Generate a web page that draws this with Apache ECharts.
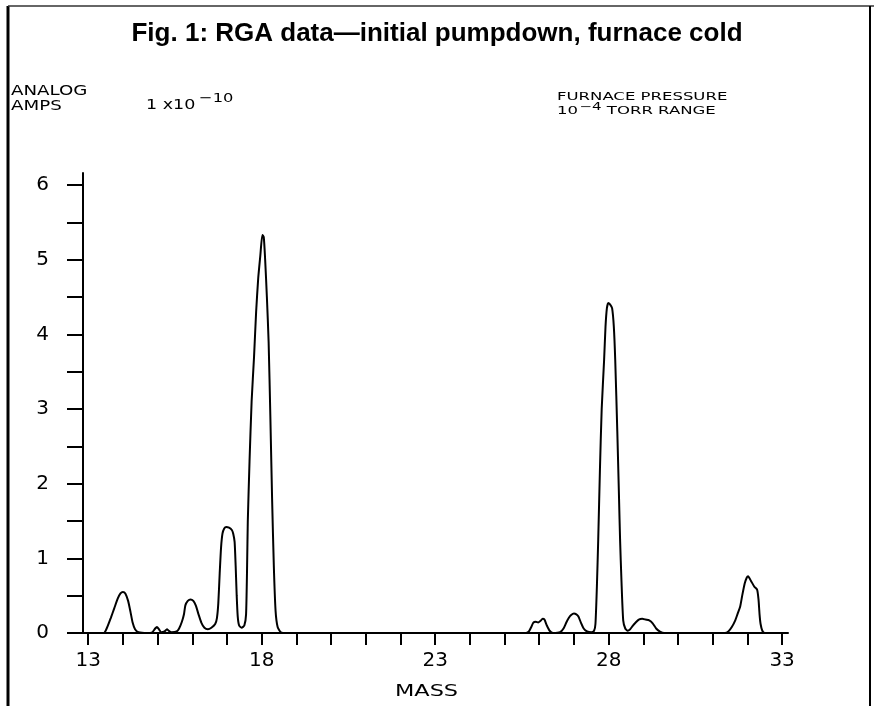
<!DOCTYPE html>
<html>
<head>
<meta charset="utf-8">
<title>RGA data</title>
<script src="https://cdn.jsdelivr.net/npm/echarts@6/dist/echarts.min.js"></script>
<style>
  html, body { margin: 0; padding: 0; background: #fff; }
  #chart { width: 874px; height: 706px; }
</style>
</head>
<body>
<div id="chart"></div>
<script>
// trace of the scan, [mass, amps x1e-10]
var peaks13to15 = [
  [13.0, 0], [13.45, 0], [13.55, 0.08], [13.65, 0.2], [13.75, 0.33], [13.85, 0.46],
  [13.93, 0.53], [14.0, 0.55], [14.07, 0.53], [14.15, 0.43], [14.22, 0.28], [14.28, 0.14],
  [14.35, 0.05], [14.45, 0.01], [14.7, 0], [14.85, 0.01], [14.93, 0.06], [14.98, 0.08],
  [15.04, 0.05], [15.1, 0.01], [15.2, 0.02], [15.27, 0.05], [15.32, 0.03], [15.4, 0.01], [15.55, 0.02]
];
var peaks16to18 = [
  [15.62, 0.06], [15.7, 0.15], [15.76, 0.25], [15.8, 0.37], [15.87, 0.43], [15.95, 0.45],
  [16.03, 0.43], [16.1, 0.37], [16.18, 0.25], [16.26, 0.14], [16.35, 0.07], [16.45, 0.05],
  [16.55, 0.07], [16.66, 0.12], [16.71, 0.2], [16.75, 0.4], [16.79, 0.8], [16.83, 1.15],
  [16.87, 1.33], [16.92, 1.4], [16.98, 1.42], [17.06, 1.41], [17.14, 1.38], [17.18, 1.33],
  [17.22, 1.22], [17.25, 0.9], [17.28, 0.5], [17.31, 0.22], [17.35, 0.1], [17.42, 0.07],
  [17.5, 0.1], [17.55, 0.25], [17.58, 0.9], [17.6, 1.5], [17.65, 2.3], [17.71, 3.1],
  [17.78, 3.7], [17.84, 4.3], [17.9, 4.75], [17.96, 5.05], [18.02, 5.33], [18.06, 5.3],
  [18.1, 5.0], [18.15, 4.5], [18.2, 3.9], [18.25, 2.9], [18.3, 1.8], [18.35, 0.9],
  [18.4, 0.3], [18.46, 0.08], [18.55, 0.01], [18.7, 0]
];
var peaks26to29 = [
  [25.6, 0], [25.7, 0.02], [25.77, 0.08], [25.83, 0.14], [25.9, 0.15], [25.97, 0.14],
  [26.03, 0.16], [26.1, 0.19], [26.15, 0.18], [26.22, 0.1], [26.3, 0.03], [26.4, 0],
  [26.6, 0.01], [26.7, 0.06], [26.78, 0.14], [26.85, 0.2], [26.92, 0.24], [27.0, 0.26],
  [27.07, 0.25], [27.13, 0.22], [27.2, 0.14], [27.28, 0.06], [27.38, 0.02], [27.5, 0.01],
  [27.58, 0.03], [27.62, 0.12], [27.66, 0.6], [27.7, 1.25], [27.75, 2.2], [27.8, 3.0],
  [27.87, 3.66], [27.91, 4.1], [27.95, 4.35], [27.99, 4.42], [28.04, 4.4], [28.1, 4.35],
  [28.15, 4.1], [28.19, 3.66], [28.25, 2.7], [28.3, 1.8], [28.33, 1.25], [28.37, 0.7],
  [28.42, 0.17], [28.48, 0.06], [28.55, 0.03], [28.62, 0.05], [28.7, 0.1], [28.78, 0.14],
  [28.87, 0.18], [28.97, 0.19], [29.07, 0.18], [29.17, 0.17], [29.27, 0.13], [29.37, 0.06],
  [29.48, 0.02], [29.6, 0]
];
var peak32 = [
  [31.35, 0], [31.45, 0.02], [31.55, 0.08], [31.65, 0.17], [31.72, 0.26], [31.79, 0.35],
  [31.85, 0.5], [31.92, 0.66], [31.98, 0.74], [32.02, 0.76], [32.1, 0.7], [32.2, 0.62],
  [32.28, 0.58], [32.32, 0.45], [32.35, 0.25], [32.38, 0.12], [32.43, 0.03], [32.5, 0], [32.6, 0]
];

var massTicks = [13, 14, 15, 16, 17, 18, 19, 20, 21, 22, 23, 24, 25, 26, 27, 28, 29, 30, 31, 32, 33];
var massLabels = [13, 18, 23, 28, 33];
var ampTicks = [0, 0.5, 1, 1.5, 2, 2.5, 3, 3.5, 4, 4.5, 5, 5.5, 6];
var ampLabels = [0, 1, 2, 3, 4, 5, 6];

var titleText = 'Fig. 1: RGA data\u2014initial pumpdown, furnace cold';
var handFont = 'DejaVu Sans';

// hand lettering is wide, so stretch the text sideways
function note(x, y, text, size, stretch, rich) {
  return {
    type: 'text', x: x, y: y, scaleX: stretch,
    style: {
      x: 0, y: 0, text: text, fill: '#000',
      fontFamily: handFont, fontSize: size,
      verticalAlign: 'middle', align: 'left',
      rich: rich
    }
  };
}

var chart = echarts.init(document.getElementById('chart'));

chart.setOption({
  backgroundColor: '#fff',
  animation: false,
  title: {
    text: titleText,
    left: 'center',
    top: 16,
    textStyle: {
      fontFamily: '"Liberation Sans Narrow", "Liberation Sans", Arial, sans-serif',
      fontWeight: 'bold',
      fontSize: 26,
      color: '#000'
    }
  },
  grid: { left: 83, right: 86, top: 173, bottom: 73 },
  xAxis: {
    type: 'value',
    min: 12.85,
    max: 33.17,
    axisLine: { lineStyle: { color: '#000', width: 2 } },
    axisTick: { customValues: massTicks, length: 12, lineStyle: { color: '#000', width: 2 } },
    axisLabel: { customValues: massLabels, margin: 18, fontFamily: handFont, fontSize: 20, color: '#000' },
    splitLine: { show: false }
  },
  yAxis: {
    type: 'value',
    min: 0,
    max: 6.16,
    axisLine: { show: true, lineStyle: { color: '#000', width: 2 } },
    axisTick: { show: true, customValues: ampTicks, length: 16, lineStyle: { color: '#000', width: 2 } },
    axisLabel: { customValues: ampLabels, margin: 34, fontFamily: handFont, fontSize: 20, color: '#000' },
    splitLine: { show: false }
  },
  series: [{
    type: 'line',
    data: [].concat(peaks13to15, peaks16to18, peaks26to29, peak32),
    symbol: 'none',
    smooth: 0.2,
    lineStyle: { color: '#000', width: 2 }
  }],
  graphic: [
    // frame of the figure
    { type: 'line', shape: { x1: 8, y1: 6, x2: 8, y2: 706 }, style: { stroke: '#000', lineWidth: 3 } },
    { type: 'line', shape: { x1: 8, y1: 6, x2: 874, y2: 6 }, style: { stroke: '#333', lineWidth: 1.5 } },
    { type: 'line', shape: { x1: 870, y1: 6, x2: 870, y2: 706 }, style: { stroke: '#000', lineWidth: 2 } },
    // notes above the plot
    note(11, 91, 'ANALOG', 14, 1.3),
    note(11, 106, 'AMPS', 14, 1.3),
    note(146, 105, '{b|1 x10}{c|\u221210}', 14, 1.25, {
      b: { fontFamily: handFont, fontSize: 14 },
      c: { fontFamily: handFont, fontSize: 13, verticalAlign: 'bottom', padding: [0, 0, 12, 3] }
    }),
    note(557, 97, 'FURNACE PRESSURE', 11, 1.5),
    note(557, 111, '{a|10}{b|\u22124}{a| TORR RANGE}', 11, 1.5, {
      a: { fontFamily: handFont, fontSize: 11 },
      b: { fontFamily: handFont, fontSize: 10, verticalAlign: 'bottom', padding: [0, 0, 7, 1] }
    }),
    note(395, 692, 'MASS', 16, 1.4)
  ]
});
</script>
</body>
</html>
